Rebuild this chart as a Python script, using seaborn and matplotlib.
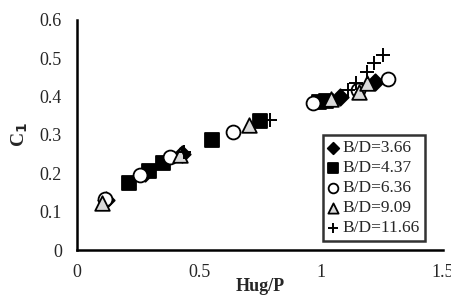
import matplotlib
matplotlib.use("Agg")
import matplotlib.pyplot as plt
import seaborn as sns
import pandas as pd

# data
bd366_x = [0.12, 0.28, 0.43, 1.08, 1.22]
bd366_y = [0.13, 0.20, 0.25, 0.398, 0.438]
bd437_x = [0.214, 0.296, 0.353, 0.555, 0.752, 0.99, 1.02]
bd437_y = [0.175, 0.206, 0.227, 0.287, 0.337, 0.386, 0.388]
bd636_x = [0.115, 0.259, 0.382, 0.641, 0.967, 1.15, 1.273]
bd636_y = [0.134, 0.196, 0.243, 0.308, 0.383, 0.418, 0.446]
bd909_x = [0.104, 0.423, 0.706, 1.043, 1.156, 1.188]
bd909_y = [0.122, 0.248, 0.325, 0.394, 0.413, 0.435]
bd1166_x = [0.44, 0.79, 1.11, 1.143, 1.19, 1.217, 1.254]
bd1166_y = [0.255, 0.34, 0.418, 0.436, 0.465, 0.488, 0.509]

series = [
    ("B/D=3.66", bd366_x, bd366_y, "D", "black", 70),
    ("B/D=4.37", bd437_x, bd437_y, "s", "black", 110),
    ("B/D=6.36", bd636_x, bd636_y, "o", "white", 100),
    ("B/D=9.09", bd909_x, bd909_y, "^", "#d9d9d9", 110),
    ("B/D=11.66", bd1166_x, bd1166_y, "+", "black", 100),
]

sns.set_style("white")
plt.rcParams["font.family"] = ["Liberation Serif", "DejaVu Serif"]

fig, ax = plt.subplots(figsize=(4.51, 2.97), dpi=100)

for name, xs, ys, mk, fc, s in series:
    df = pd.DataFrame({"x": xs, "y": ys})
    if mk == "+":
        sns.scatterplot(data=df, x="x", y="y", marker=mk, color="black", s=s,
                        linewidth=1.4, ax=ax, label=name)
    else:
        sns.scatterplot(data=df, x="x", y="y", marker=mk, color=fc, edgecolor="black",
                        s=s, linewidth=1.3, ax=ax, label=name)

ax.set_xlim(0, 1.5)
ax.set_ylim(0, 0.6)
ax.set_xticks([0, 0.5, 1, 1.5])
ax.set_xticklabels(["0", "0.5", "1", "1.5"])
ax.set_yticks([0, 0.1, 0.2, 0.3, 0.4, 0.5, 0.6])
ax.set_yticklabels(["0", "0.1", "0.2", "0.3", "0.4", "0.5", "0.6"])
ax.tick_params(axis="x", labelsize=13, length=0, pad=10)
ax.tick_params(axis="y", labelsize=13, length=0, pad=11)
for side in ["top", "right"]:
    ax.spines[side].set_visible(False)
for side in ["left", "bottom"]:
    ax.spines[side].set_color("black")
    ax.spines[side].set_linewidth(1.8)

ax.set_xlabel("Hug/P", fontsize=13, fontweight="bold", labelpad=-2)
ax.set_ylabel("C$_\\mathbf{1}$", fontsize=14, fontweight="bold", labelpad=7)

leg = ax.legend(loc="lower right", bbox_to_anchor=(0.975, 0.0), fontsize=12.5,
                frameon=True, fancybox=False, edgecolor="black", handlelength=0.6,
                handletextpad=0.25, borderpad=0.3, labelspacing=0.22, markerscale=0.7)
leg.get_frame().set_linewidth(1.8)

plt.subplots_adjust(left=0.171, right=0.982, bottom=0.158, top=0.933)
fig.savefig("out.png", dpi=100)
